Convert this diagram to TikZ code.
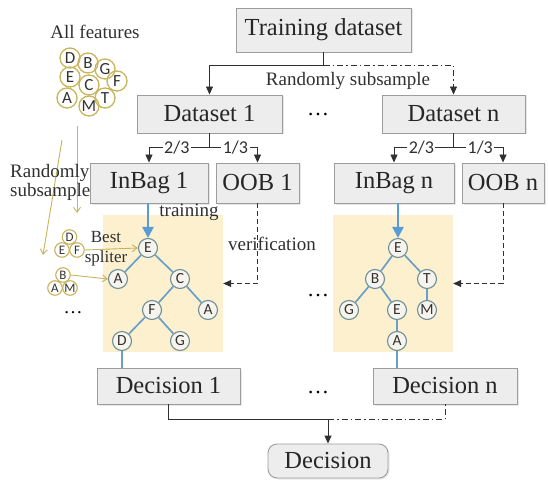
\documentclass[tikz,border=0pt]{standalone}
\usepackage{fontspec}
\setmainfont{Liberation Serif}
\newfontfamily\serf{Liberation Serif}
\newfontfamily\sansf{Carlito}
\usetikzlibrary{arrows.meta,shadows}
\definecolor{boxfill}{HTML}{EDEDED}
\definecolor{boxdraw}{HTML}{9C9C9C}
\definecolor{panelc}{HTML}{FCF0CF}
\definecolor{treeline}{HTML}{6A9FC9}
\definecolor{treecirc}{HTML}{6E8F98}
\definecolor{circfill}{HTML}{F6F4EC}
\definecolor{bluearrc}{HTML}{5B9BD5}
\definecolor{olivec}{HTML}{C8B45A}
\definecolor{linec}{HTML}{303030}
\tikzset{
  box/.style={draw=boxdraw, fill=boxfill, line width=0.9pt, inner sep=0pt,
    font=\serf\fontsize{24.5}{27}\selectfont, text=black!85,
    drop shadow={opacity=0.18, shadow xshift=1.5pt, shadow yshift=-1.5pt}},
  panel/.style={fill=panelc, draw=none, inner sep=0pt},
  arr/.style={draw=linec, line width=0.9pt, -{Triangle[length=8pt,width=7pt]}},
  plain/.style={draw=linec, line width=0.9pt},
  dashdot/.style={dash pattern=on 6pt off 3pt on 1.5pt off 3pt},
  dashln/.style={dash pattern=on 5pt off 3pt},
  frac/.style={fill=white, inner sep=1.5pt, font=\sansf\fontsize{18}{18}\selectfont, text=linec},
  lbl/.style={inner sep=0pt, font=\serf\fontsize{19}{20}\selectfont, text=linec},
  tc/.style={circle, draw=treecirc, fill=circfill, line width=1.1pt, minimum size=19pt,
    inner sep=0pt, font=\sansf\fontsize{15.5}{15.5}\selectfont, text=black!80},
  fc/.style={circle, draw=olivec, line width=1.3pt, minimum size=20pt,
    inner sep=0pt, font=\sansf\fontsize{17}{17}\selectfont, text=black!80},
  sc/.style={circle, draw=olivec, line width=1.1pt, minimum size=14.5pt,
    inner sep=0pt, font=\sansf\fontsize{13}{13}\selectfont, text=black!80},
  tedge/.style={draw=treeline, line width=1.7pt},
  bluearr/.style={draw=bluearrc, line width=2.4pt, -{Triangle[length=11pt,width=11pt]}},
  olivearr/.style={draw=olivec, line width=0.9pt, -{Straight Barb[length=5pt,width=7pt]}},
  dots/.style={inner sep=0pt, font=\serf\fontsize{22}{22}\selectfont, anchor=base,
    text height=3pt, text depth=0pt},
}
\begin{document}
\begin{tikzpicture}[x=1pt,y=-1pt]
\useasboundingbox[fill=white] (0,0) rectangle (548,481);

% panels
\node[panel, minimum width=120pt, minimum height=137pt] (p1) at (163,283.5) {};
\node[panel, minimum width=120pt, minimum height=137pt] (p2) at (393,283.5) {};

% boxes
\node[box, minimum width=175pt, minimum height=44pt] (train) at (323.5,30) {Training dataset};
\node[box, minimum width=145pt, minimum height=38pt] (ds1) at (209.5,114) {Dataset 1};
\node[box, minimum width=143pt, minimum height=38pt] (dsn) at (453.5,114) {Dataset n};
\node[box, minimum width=118pt, minimum height=40pt] (inb1) at (149,183) {InBag 1};
\node[box, minimum width=83pt, minimum height=40pt] (oob1) at (257.5,183) {OOB 1};
\node[box, minimum width=120pt, minimum height=40pt] (inbn) at (394,183) {InBag n};
\node[box, minimum width=82pt, minimum height=40pt] (oobn) at (503,183) {OOB n};
\node[box, minimum width=143pt, minimum height=36pt] (dec1) at (168.5,386) {Decision 1};
\node[box, minimum width=144pt, minimum height=36pt] (decn) at (445,386) {Decision n};
\node[box, rounded corners=9pt, minimum width=120pt, minimum height=34pt] (dec) at (328,461) {Decision};

% top split
\draw[plain] (train.south) -- ++(0,13) coordinate (tj);
\draw[arr] (tj) -| (ds1.north);
\draw[arr, dashdot] (tj) -| (dsn.north);
\node[lbl] (rs) at (348,81) {Randomly subsample};

% dataset splits
\draw[plain] (ds1.south) -- ++(0,14) coordinate (s1);
\draw[arr] (s1) -| node[frac, pos=0.27] {2/3} (inb1.north);
\draw[arr] (s1) -| node[frac, pos=0.27] {1/3} (oob1.north);
\draw[plain] (dsn.south) -- ++(0,14) coordinate (sn);
\draw[arr] (sn) -| node[frac, pos=0.27] {2/3} (inbn.north);
\draw[arr] (sn) -| node[frac, pos=0.27] {1/3} (oobn.north);

% tree 1
\node[tc] (e1) at (148,248) {E};
\node[tc] (a1) at (118,279) {A};
\node[tc] (c1) at (180,279) {C};
\node[tc] (f1) at (152,310) {F};
\node[tc] (ab1) at (208,310) {A};
\node[tc] (d1) at (122,341) {D};
\node[tc] (g1) at (180,341) {G};
\draw[tedge] (e1) -- (a1);
\draw[tedge] (e1) -- (c1);
\draw[tedge] (c1) -- (f1);
\draw[tedge] (c1) -- (ab1);
\draw[tedge] (f1) -- (d1);
\draw[tedge] (f1) -- (g1);
\draw[tedge] (d1) -- (d1 |- dec1.north);
\draw[bluearr] (inb1.south -| e1) -- (e1.north);

% tree 2
\node[tc] (e2) at (398,248) {E};
\node[tc] (b2) at (375,279) {B};
\node[tc] (t2) at (427,279) {T};
\node[tc] (g2) at (349,310) {G};
\node[tc] (eb2) at (397,310) {E};
\node[tc] (m2) at (427,310) {M};
\node[tc] (a2) at (397,341) {A};
\draw[tedge] (e2) -- (b2);
\draw[tedge] (e2) -- (t2);
\draw[tedge] (b2) -- (g2);
\draw[tedge] (b2) -- (eb2);
\draw[tedge] (t2) -- (m2);
\draw[tedge] (eb2) -- (a2);
\draw[tedge] (a2) -- (a2 |- decn.north);
\draw[bluearr] (inbn.south -| e2) -- (e2.north);

% labels training / verification
\node[lbl] (trn) at (189,212) {training};
\node[lbl, anchor=west] (ver) at (228,244) {verification};
\draw[arr, dashln] (oob1.south) |- (p1.east);
\draw[arr, dashln] (oobn.south) |- (p2.east);

% bottom
\coordinate (bj) at (328,419);
\draw[plain] (dec1.south) |- (bj);
\draw[plain, dashdot] (bj) -| (decn.south);
\draw[arr] (bj) -- (dec.north);

% dots
\node[dots] (dt1) at (318,116) {…};
\node[dots] (dt2) at (318,296) {…};
\node[dots] (dt3) at (318,393) {…};
\node[dots, font=\serf\fontsize{19}{19}\selectfont] (dt4) at (73,313) {…};

% all features
\node[lbl] (allf) at (95,32) {All features};
\node[fc] (fD) at (70,58) {D};
\node[fc] (fB) at (88,63) {B};
\node[fc] (fG) at (105,69) {G};
\node[fc] (fE) at (70,77) {E};
\node[fc] (fC) at (89,85) {C};
\node[fc] (fF) at (117,81) {F};
\node[fc] (fA) at (67,98) {A};
\node[fc] (fM) at (89,106) {M};
\node[fc] (fT) at (105,98) {T};

% left random subsample arrows
\coordinate (la1) at (77,126);
\coordinate (la1e) at (77,213);
\coordinate (la2) at (62,140);
\coordinate (la2e) at (43,255);
\draw[olivearr] (la1) -- (la1e);
\draw[olivearr] (la2) -- (la2e);
\node[lbl, align=left, anchor=west, font=\serf\fontsize{19}{19}\selectfont] (rs2) at (10,182) {Randomly\\subsample};

% small feature groups
\node[sc] (sD) at (69.5,237) {D};
\node[sc] (sE) at (62,250) {E};
\node[sc] (sF) at (77,250) {F};
\node[sc] (sB) at (63,275) {B};
\node[sc] (sA) at (55,288) {A};
\node[sc] (sM) at (70,288) {M};
\draw[olivearr] (sF.east) -- (e1.west);
\draw[olivearr] (sB.east) -- (a1.west);
\node[lbl, font=\serf\fontsize{17}{17}\selectfont] (best) at (106,237) {Best};
\node[lbl, font=\serf\fontsize{17}{17}\selectfont] (spl) at (106,258) {spliter};
\end{tikzpicture}
\end{document}
